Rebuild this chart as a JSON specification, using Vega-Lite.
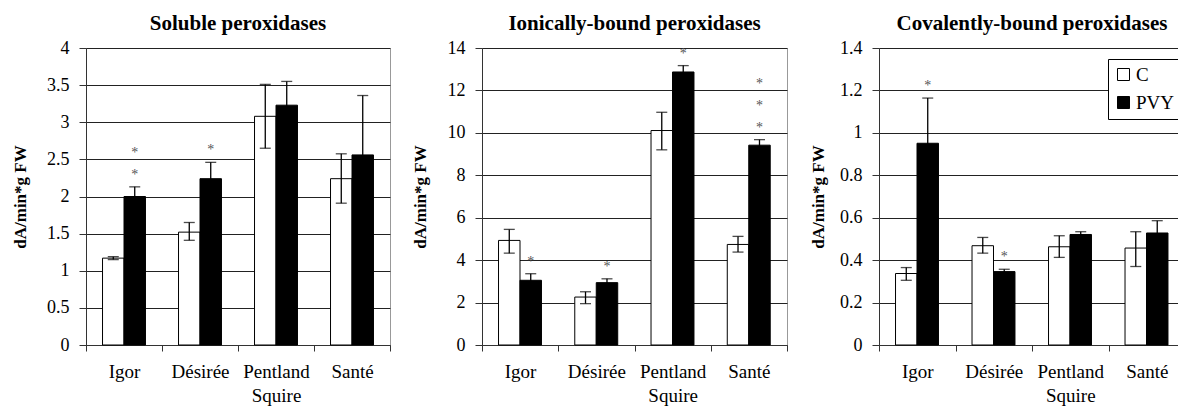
{
  "$schema": "https://vega.github.io/schema/vega-lite/v6.json",
  "autosize": {"type": "none"},
  "padding": {"left": 86, "top": 48, "right": 1100, "bottom": 70},
  "background": "white",
  "bounds": "flush",
  "spacing": 92,
  "config": {
    "font": "Liberation Serif",
    "view": {"stroke": "#999999", "strokeWidth": 1},
    "title": {"font": "Liberation Serif", "fontSize": 21, "fontWeight": "bold", "color": "black", "anchor": "middle", "offset": 5},
    "axis": {"labelFont": "Liberation Serif", "titleFont": "Liberation Serif", "labelColor": "black", "titleColor": "black", "domainColor": "#333333", "tickColor": "#333333", "gridColor": "#222222", "gridOpacity": 1, "labelOverlap": false},
    "axisY": {"grid": true, "labelFontSize": 18, "tickSize": 7, "labelPadding": 10, "titleFontSize": 17, "titleFontWeight": "bold", "titleBaseline": "middle", "titleAngle": -90, "tickCount": 12},
    "axisX": {"grid": false, "labelFontSize": 19, "labelAngle": 0, "tickSize": 6, "labelPadding": 11, "tickBand": "extent", "labelLineHeight": 24},
    "legend": {"labelFont": "Liberation Serif"},
    "text": {"font": "Liberation Serif"},
    "bar": {"stroke": "black", "strokeWidth": 1},
    "tick": {"color": "black", "thickness": 1.3},
    "rule": {"color": "black", "strokeWidth": 1.3}
  },
  "resolve": {"scale": {"fill": "independent"}, "legend": {"fill": "independent"}},
  "datasets": {
    "d": [
      {"panel": "Soluble", "cultivar": "Igor", "treatment": "C", "mean": 1.17, "lo": 1.15, "hi": 1.19, "sig": ""},
      {"panel": "Soluble", "cultivar": "Igor", "treatment": "PVY", "mean": 2.0, "lo": 1.87, "hi": 2.13, "sig": "**"},
      {"panel": "Soluble", "cultivar": "Désirée", "treatment": "C", "mean": 1.52, "lo": 1.41, "hi": 1.65, "sig": ""},
      {"panel": "Soluble", "cultivar": "Désirée", "treatment": "PVY", "mean": 2.24, "lo": 2.02, "hi": 2.46, "sig": "*"},
      {"panel": "Soluble", "cultivar": "Pentland Squire", "treatment": "C", "mean": 3.08, "lo": 2.65, "hi": 3.51, "sig": ""},
      {"panel": "Soluble", "cultivar": "Pentland Squire", "treatment": "PVY", "mean": 3.23, "lo": 2.91, "hi": 3.55, "sig": ""},
      {"panel": "Soluble", "cultivar": "Santé", "treatment": "C", "mean": 2.24, "lo": 1.91, "hi": 2.575, "sig": ""},
      {"panel": "Soluble", "cultivar": "Santé", "treatment": "PVY", "mean": 2.56, "lo": 1.76, "hi": 3.36, "sig": ""},
      {"panel": "Ionic", "cultivar": "Igor", "treatment": "C", "mean": 4.93, "lo": 4.33, "hi": 5.45, "sig": ""},
      {"panel": "Ionic", "cultivar": "Igor", "treatment": "PVY", "mean": 3.05, "lo": 2.74, "hi": 3.36, "sig": "*"},
      {"panel": "Ionic", "cultivar": "Désirée", "treatment": "C", "mean": 2.26, "lo": 1.95, "hi": 2.51, "sig": ""},
      {"panel": "Ionic", "cultivar": "Désirée", "treatment": "PVY", "mean": 2.94, "lo": 2.76, "hi": 3.12, "sig": "*"},
      {"panel": "Ionic", "cultivar": "Pentland Squire", "treatment": "C", "mean": 10.11, "lo": 9.2, "hi": 10.97, "sig": ""},
      {"panel": "Ionic", "cultivar": "Pentland Squire", "treatment": "PVY", "mean": 12.87, "lo": 12.57, "hi": 13.17, "sig": "*"},
      {"panel": "Ionic", "cultivar": "Santé", "treatment": "C", "mean": 4.74, "lo": 4.38, "hi": 5.12, "sig": ""},
      {"panel": "Ionic", "cultivar": "Santé", "treatment": "PVY", "mean": 9.42, "lo": 9.16, "hi": 9.68, "sig": "***"},
      {"panel": "Covalent", "cultivar": "Igor", "treatment": "C", "mean": 0.337, "lo": 0.305, "hi": 0.365, "sig": ""},
      {"panel": "Covalent", "cultivar": "Igor", "treatment": "PVY", "mean": 0.951, "lo": 0.74, "hi": 1.164, "sig": "*"},
      {"panel": "Covalent", "cultivar": "Désirée", "treatment": "C", "mean": 0.468, "lo": 0.433, "hi": 0.507, "sig": ""},
      {"panel": "Covalent", "cultivar": "Désirée", "treatment": "PVY", "mean": 0.346, "lo": 0.335, "hi": 0.357, "sig": "*"},
      {"panel": "Covalent", "cultivar": "Pentland Squire", "treatment": "C", "mean": 0.463, "lo": 0.413, "hi": 0.515, "sig": ""},
      {"panel": "Covalent", "cultivar": "Pentland Squire", "treatment": "PVY", "mean": 0.521, "lo": 0.508, "hi": 0.534, "sig": ""},
      {"panel": "Covalent", "cultivar": "Santé", "treatment": "C", "mean": 0.457, "lo": 0.37, "hi": 0.534, "sig": ""},
      {"panel": "Covalent", "cultivar": "Santé", "treatment": "PVY", "mean": 0.528, "lo": 0.47, "hi": 0.586, "sig": ""}
    ]
  },
  "hconcat": [
    {
      "width": 304,
      "height": 297,
      "title": "Soluble peroxidases",
      "data": {"name": "d"},
      "transform": [{"filter": "datum.panel == 'Soluble'"}],
      "encoding": {
        "x": {"field": "cultivar", "type": "nominal", "sort": ["Igor", "Désirée", "Pentland Squire", "Santé"], "scale": {"paddingInner": 0, "paddingOuter": 0}, "axis": {"title": null, "labelExpr": "datum.value == 'Pentland Squire' ? ['Pentland', 'Squire'] : datum.value"}},
        "xOffset": {"field": "treatment", "type": "nominal", "sort": ["C", "PVY"], "scale": {"paddingInner": 0, "paddingOuter": 0.77}}
      },
      "layer": [
        {"mark": {"type": "bar"}, "encoding": {"y": {"field": "mean", "type": "quantitative", "scale": {"domain": [0, 4]}, "axis": {"title": "dA/min*g FW", "values": [0, 0.5, 1, 1.5, 2, 2.5, 3, 3.5, 4], "tickCount": 12, "format": "~g", "titleX": -66}}, "fill": {"field": "treatment", "type": "nominal", "scale": {"domain": ["C", "PVY"], "range": ["white", "black"]}, "legend": null}}},
        {"mark": {"type": "rule"}, "encoding": {"y": {"field": "lo", "type": "quantitative", "axis": {"title": "dA/min*g FW", "values": [0, 0.5, 1, 1.5, 2, 2.5, 3, 3.5, 4], "tickCount": 12, "format": "~g", "titleX": -66}}, "y2": {"field": "hi"}}},
        {"mark": {"type": "tick", "size": 11}, "encoding": {"y": {"field": "hi", "type": "quantitative", "axis": {"title": "dA/min*g FW", "values": [0, 0.5, 1, 1.5, 2, 2.5, 3, 3.5, 4], "tickCount": 12, "format": "~g", "titleX": -66}}}},
        {"mark": {"type": "tick", "size": 11}, "encoding": {"y": {"field": "lo", "type": "quantitative", "axis": {"title": "dA/min*g FW", "values": [0, 0.5, 1, 1.5, 2, 2.5, 3, 3.5, 4], "tickCount": 12, "format": "~g", "titleX": -66}}}},
        {"transform": [{"filter": "length(datum.sig) >= 1"}], "mark": {"type": "text", "baseline": "bottom", "dy": -5, "fontSize": 14, "color": "#555555"}, "encoding": {"y": {"field": "hi", "type": "quantitative", "axis": {"title": "dA/min*g FW", "values": [0, 0.5, 1, 1.5, 2, 2.5, 3, 3.5, 4], "tickCount": 12, "format": "~g", "titleX": -66}}, "text": {"value": "*"}}},
        {"transform": [{"filter": "length(datum.sig) >= 2"}], "mark": {"type": "text", "baseline": "bottom", "dy": -27, "fontSize": 14, "color": "#555555"}, "encoding": {"y": {"field": "hi", "type": "quantitative", "axis": {"title": "dA/min*g FW", "values": [0, 0.5, 1, 1.5, 2, 2.5, 3, 3.5, 4], "tickCount": 12, "format": "~g", "titleX": -66}}, "text": {"value": "*"}}}
      ]
    },
    {
      "width": 305,
      "height": 297,
      "title": "Ionically-bound peroxidases",
      "data": {"name": "d"},
      "transform": [{"filter": "datum.panel == 'Ionic'"}],
      "encoding": {
        "x": {"field": "cultivar", "type": "nominal", "sort": ["Igor", "Désirée", "Pentland Squire", "Santé"], "scale": {"paddingInner": 0, "paddingOuter": 0}, "axis": {"title": null, "labelExpr": "datum.value == 'Pentland Squire' ? ['Pentland', 'Squire'] : datum.value"}},
        "xOffset": {"field": "treatment", "type": "nominal", "sort": ["C", "PVY"], "scale": {"paddingInner": 0, "paddingOuter": 0.77}}
      },
      "layer": [
        {"mark": {"type": "bar"}, "encoding": {"y": {"field": "mean", "type": "quantitative", "scale": {"domain": [0, 14]}, "axis": {"title": "dA/min*g FW", "values": [0, 2, 4, 6, 8, 10, 12, 14], "tickCount": 12, "format": "~g", "titleX": -62}}, "fill": {"field": "treatment", "type": "nominal", "scale": {"domain": ["C", "PVY"], "range": ["white", "black"]}, "legend": null}}},
        {"mark": {"type": "rule"}, "encoding": {"y": {"field": "lo", "type": "quantitative", "axis": {"title": "dA/min*g FW", "values": [0, 2, 4, 6, 8, 10, 12, 14], "tickCount": 12, "format": "~g", "titleX": -62}}, "y2": {"field": "hi"}}},
        {"mark": {"type": "tick", "size": 11}, "encoding": {"y": {"field": "hi", "type": "quantitative", "axis": {"title": "dA/min*g FW", "values": [0, 2, 4, 6, 8, 10, 12, 14], "tickCount": 12, "format": "~g", "titleX": -62}}}},
        {"mark": {"type": "tick", "size": 11}, "encoding": {"y": {"field": "lo", "type": "quantitative", "axis": {"title": "dA/min*g FW", "values": [0, 2, 4, 6, 8, 10, 12, 14], "tickCount": 12, "format": "~g", "titleX": -62}}}},
        {"transform": [{"filter": "length(datum.sig) >= 1"}], "mark": {"type": "text", "baseline": "bottom", "dy": -5, "fontSize": 14, "color": "#555555"}, "encoding": {"y": {"field": "hi", "type": "quantitative", "axis": {"title": "dA/min*g FW", "values": [0, 2, 4, 6, 8, 10, 12, 14], "tickCount": 12, "format": "~g", "titleX": -62}}, "text": {"value": "*"}}},
        {"transform": [{"filter": "length(datum.sig) >= 2"}], "mark": {"type": "text", "baseline": "bottom", "dy": -27, "fontSize": 14, "color": "#555555"}, "encoding": {"y": {"field": "hi", "type": "quantitative", "axis": {"title": "dA/min*g FW", "values": [0, 2, 4, 6, 8, 10, 12, 14], "tickCount": 12, "format": "~g", "titleX": -62}}, "text": {"value": "*"}}},
        {"transform": [{"filter": "length(datum.sig) >= 3"}], "mark": {"type": "text", "baseline": "bottom", "dy": -49, "fontSize": 14, "color": "#555555"}, "encoding": {"y": {"field": "hi", "type": "quantitative", "axis": {"title": "dA/min*g FW", "values": [0, 2, 4, 6, 8, 10, 12, 14], "tickCount": 12, "format": "~g", "titleX": -62}}, "text": {"value": "*"}}}
      ]
    },
    {
      "width": 306,
      "height": 297,
      "title": "Covalently-bound peroxidases",
      "data": {"name": "d"},
      "transform": [{"filter": "datum.panel == 'Covalent'"}],
      "encoding": {
        "x": {"field": "cultivar", "type": "nominal", "sort": ["Igor", "Désirée", "Pentland Squire", "Santé"], "scale": {"paddingInner": 0, "paddingOuter": 0}, "axis": {"title": null, "labelExpr": "datum.value == 'Pentland Squire' ? ['Pentland', 'Squire'] : datum.value"}},
        "xOffset": {"field": "treatment", "type": "nominal", "sort": ["C", "PVY"], "scale": {"paddingInner": 0, "paddingOuter": 0.77}}
      },
      "layer": [
        {"mark": {"type": "bar"}, "encoding": {"y": {"field": "mean", "type": "quantitative", "scale": {"domain": [0, 1.4]}, "axis": {"title": "dA/min*g FW", "values": [0, 0.2, 0.4, 0.6, 0.8, 1, 1.2, 1.4], "tickCount": 12, "format": "~g", "titleX": -61}}, "fill": {"field": "treatment", "type": "nominal", "scale": {"domain": ["C", "PVY"], "range": ["white", "black"]}, "legend": {"title": null, "orient": "none", "legendX": 229, "legendY": 11, "symbolType": "square", "symbolSize": 144, "symbolStrokeColor": "black", "symbolStrokeWidth": 1, "labelFontSize": 19, "labelColor": "black", "labelOffset": 3, "fillColor": "white", "strokeColor": "black", "padding": 6, "rowPadding": 8}}}},
        {"mark": {"type": "rule"}, "encoding": {"y": {"field": "lo", "type": "quantitative", "axis": {"title": "dA/min*g FW", "values": [0, 0.2, 0.4, 0.6, 0.8, 1, 1.2, 1.4], "tickCount": 12, "format": "~g", "titleX": -61}}, "y2": {"field": "hi"}}},
        {"mark": {"type": "tick", "size": 11}, "encoding": {"y": {"field": "hi", "type": "quantitative", "axis": {"title": "dA/min*g FW", "values": [0, 0.2, 0.4, 0.6, 0.8, 1, 1.2, 1.4], "tickCount": 12, "format": "~g", "titleX": -61}}}},
        {"mark": {"type": "tick", "size": 11}, "encoding": {"y": {"field": "lo", "type": "quantitative", "axis": {"title": "dA/min*g FW", "values": [0, 0.2, 0.4, 0.6, 0.8, 1, 1.2, 1.4], "tickCount": 12, "format": "~g", "titleX": -61}}}},
        {"transform": [{"filter": "length(datum.sig) >= 1"}], "mark": {"type": "text", "baseline": "bottom", "dy": -5, "fontSize": 14, "color": "#555555"}, "encoding": {"y": {"field": "hi", "type": "quantitative", "axis": {"title": "dA/min*g FW", "values": [0, 0.2, 0.4, 0.6, 0.8, 1, 1.2, 1.4], "tickCount": 12, "format": "~g", "titleX": -61}}, "text": {"value": "*"}}}
      ]
    }
  ]
}
